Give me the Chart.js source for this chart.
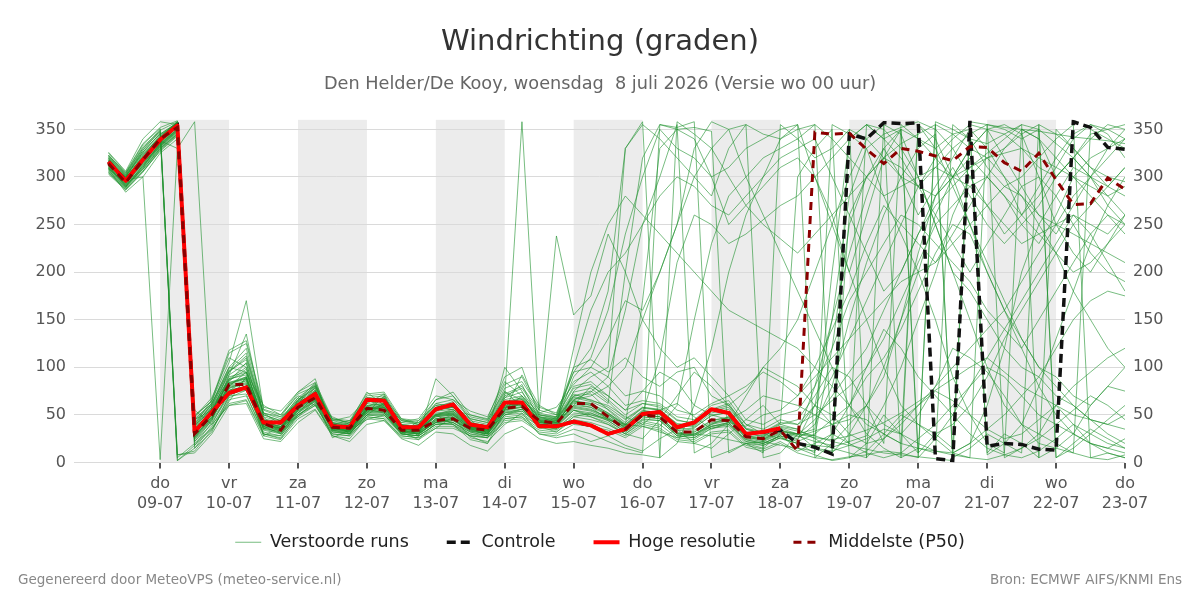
<!DOCTYPE html>
<html>
<head>
<meta charset="utf-8">
<title>Windrichting (graden)</title>
<script src="https://cdn.jsdelivr.net/npm/chart.js@4/dist/chart.umd.min.js"></script>
<style>
  html, body { margin: 0; padding: 0; background: #fff; }
  #wrap { width: 1200px; height: 600px; }
</style>
</head>
<body>
<div id="wrap"><canvas id="windChart" width="1200" height="600"></canvas></div>
<script>
// tijdas: uren t.o.v. do 09-07 00 uur, eerste waarde wo 08-07 06 uur, elke 6 uur
const firstHour = -18;
const stepHours = 6;
const dayNames = ['do', 'vr', 'za', 'zo', 'ma', 'di', 'wo', 'do', 'vr', 'za', 'zo', 'ma', 'di', 'wo', 'do'];
const dayDates = ['09-07', '10-07', '11-07', '12-07', '13-07', '14-07', '15-07', '16-07',
                  '17-07', '18-07', '19-07', '20-07', '21-07', '22-07', '23-07'];
const shadedDays = [0, 2, 4, 6, 8, 10, 12];
const yTicks = [0, 50, 100, 150, 200, 250, 300, 350];

const hires = [316,296,318,339,354, 32,53,73,79,42,42,60,72,38,37,66,65,37,37,56,61,40,37,63,63,38,38,
  43,39,30,35,51,53,37,42,56,52,30,32,36];

const control = [316,296,318,339,354, 32,53,73,79,42,42,60,72,38,37,66,65,37,37,56,61,40,37,63,63,38,38,
  43,39,30,35,51,53,37,42,56,52,30,32,34,
  20,16,9,345,340,357,356,357,4,2,359,17,20,19,14,13,358,352,331,329];

const p50 = [314,294,318,340,352, 30,50,82,82,41,34,58,68,37,36,57,55,34,34,44,46,36,34,57,59,44,41,
  62,62,48,35,50,48,32,32,45,44,27,25,34,
  12,347,345,346,329,314,330,327,322,317,332,331,315,306,325,297,271,272,299,287];

// verstoorde runs (ensemble-leden)
const runs = [
  [318,298,322,344,356, 28,48,78,86,38,34,56,70,36,33,55,58,32,30,44,50,34,30,55,62,42,40, 60,58,45,38,52,50,30,28,40,48,25,22,30, 25,40,80,150,210,260,300,330,345,10,20,60,120,200,250,280,310,300,270,250],
  [310,292,315,335,350, 35,55,90,95,45,40,62,75,40,36,60,62,36,35,50,52,38,36,62,66,48,45, 70,72,55,40,55,52,35,36,50,52,30,28,36, 30,15,8,350,340,320,300,290,310,330,345,355,5,15,30,60,40,20,10,5],
  [322,302,330,350,2, 18,42,70,72,30,28,52,64,34,30,50,50,30,28,40,42,32,28,48,50,38,36, 50,48,42,30,44,40,26,24,36,38,20,18,26, 20,10,355,345,330,280,240,200,150,90,50,20,10,350,340,300,320,345,350,355],
  [305,288,308,330,345, 42,58,95,110,50,44,66,78,42,38,64,68,40,38,55,58,42,38,70,358,50,48, 80,85,70,55,62,60,45,40,55,60,35,30,40, 45,70,100,90,60,40,30,50,80,120,110,95,70,40,20,15,30,60,80,75],
  [316,300,325,342,358, 25,45,82,90,42,38,58,72,38,35,58,55,34,32,46,48,36,32,58,60,44,42, 65,60,50,36,48,46,30,32,42,46,28,24,34, 28,22,18,260,300,330,350,340,320,300,310,325,340,355,350,335,320,300,290,310],
  [312,294,316,338,330, 358,52,76,80,36,32,54,66,35,34,54,54,33,31,42,44,35,31,52,56,40,39, 55,52,44,32,46,44,28,30,38,40,24,20,28, 22,30,45,60,90,110,140,180,220,250,240,200,160,130,100,90,70,60,80,100],
  [320,296,320,340,355, 30,50,88,92,40,36,60,72,38,34,58,60,35,34,48,50,36,34,60,62,45,42, 90,110,160,240,300,350,330,320,300,310,330,340,350, 355,5,20,40,60,20,355,340,330,345,350,10,30,20,5,350,330,310,290,280],
  [308,290,312,332,348, 38,56,84,88,44,40,60,70,40,36,56,60,38,36,52,54,40,36,64,68,46,44, 68,64,56,42,58,56,40,38,52,56,32,30,38, 35,25,15,10,5,355,345,300,250,200,180,150,120,100,90,70,60,45,40,50],
  [325,305,335,352,359, 15,38,68,76,34,30,50,62,32,30,50,48,30,28,40,40,30,28,46,48,36,34, 48,45,40,30,42,38,60,150,230,280,300,320,330, 340,355,10,30,60,100,150,200,260,300,330,350,355,345,300,250,220,200,230,260],
  [314,297,300,3,330, 45,62,100,120,52,46,68,82,44,40,68,70,42,40,60,62,44,40,72,80,55,50, 85,95,80,60,65,62,48,45,60,65,40,35,45, 40,50,65,80,100,130,170,210,250,270,290,300,280,260,240,220,200,210,230,250],
  [319,299,321,343,357, 22,40,74,78,36,32,52,66,34,32,52,52,31,30,42,46,33,30,50,54,40,38, 55,50,46,35,50,48,28,26,38,42,22,20,28, 15,8,2,5,12,30,50,40,25,10,5,355,350,340,350,5,20,35,25,15],
  [303,286,305,328,344, 48,65,105,170,55,48,72,80,45,42,70,72,44,42,62,66,46,42,78,85,58,52, 95,100,90,70,75,70,55,50,62,70,45,40,50, 55,80,120,170,200,230,260,250,230,210,190,160,140,120,150,180,210,240,260,250],
  [321,301,326,346,5, 20,36,62,66,30,26,48,60,30,28,48,46,28,26,38,38,28,26,44,46,34,32, 45,42,36,28,40,36,24,22,32,34,18,14,22, 12,20,30,20,10,5,10,25,40,60,80,100,90,70,50,40,30,20,15,10],
  [311,293,314,334,350, 34,54,86,98,42,38,62,74,38,36,60,62,36,34,50,54,38,34,60,64,46,44, 100,160,200,220,250,280,300,290,270,260,280,300,320, 330,340,300,260,220,180,200,240,280,300,320,300,280,250,230,260,300,320,330,340],
  [317,295,319,339,355, 30,48,80,84,40,36,58,68,36,33,56,56,34,32,46,48,36,32,56,58,42,40, 58,55,48,36,50,48,32,30,40,44,26,24,32, 30,35,200,340,355,350,330,300,250,200,150,100,60,40,30,20,10,350,340,330],
  [309,291,311,333,349, 40,60,92,104,46,42,64,76,40,38,62,64,38,36,54,56,40,36,66,70,48,46, 70,75,62,200,320,355,350,340,300,250,270,290,310, 320,300,260,200,150,100,60,40,30,40,60,90,130,160,190,220,250,270,290,310],
  [323,303,332,348,8, 12,34,66,70,32,28,50,60,32,30,50,50,30,28,40,42,32,28,50,52,38,35, 52,50,44,32,45,44,28,26,36,40,22,18,26, 20,18,16,22,28,60,100,150,200,260,300,320,330,345,355,5,15,30,45,60],
  [306,289,309,331,347, 44,60,98,115,50,44,66,80,42,40,66,68,40,38,58,60,42,38,70,78,52,48, 78,82,66,50,62,58,44,42,56,62,36,32,42, 40,60,50,30,20,25,40,60,75,65,50,35,25,30,45,60,80,95,110,120],
  [313,296,317,337,354, 26,46,78,82,38,34,56,68,36,34,54,54,33,32,44,46,35,32,54,58,42,40, 62,58,50,38,52,110,210,260,250,230,240,255,270, 280,300,320,340,355,340,320,290,260,230,200,230,260,290,300,280,250,220,200,190],
  [315,300,324,341,358, 36,54,84,90,42,38,60,70,38,35,56,58,36,34,50,52,38,34,58,62,44,42, 64,62,52,40,54,52,36,34,44,48,28,26,34, 30,28,120,250,300,320,310,290,280,300,330,350,345,330,310,300,320,340,355,350],
  [304,287,306,329,345, 50,64,115,125,56,50,74,84,46,44,72,74,46,44,66,70,48,44,82,90,55,238, 155,175,240,200,150,120,100,110,90,70,80,95,85, 70,90,110,130,150,170,190,200,210,230,250,270,290,280,260,250,240,230,220,210],
  [322,304,334,351,8, 10,30,60,65,28,24,46,56,30,28,46,44,28,26,36,36,28,26,42,44,32,30, 40,38,34,26,38,34,22,20,30,32,16,12,20, 10,5,3,6,8,12,10,5,358,350,340,335,345,355,5,15,10,5,3,8],
  [310,292,313,335,351, 33,50,82,88,40,36,58,70,37,35,56,57,35,33,48,50,37,33,57,61,43,41, 66,70,80,100,150,200,250,300,330,350,355,345,340, 350,355,340,320,300,280,290,300,310,300,290,270,250,230,240,250,260,250,240,260],
  [318,297,320,341,356, 28,47,79,83,39,35,57,69,36,33,55,55,33,31,45,47,35,31,55,59,43,41, 59,56,47,37,50,48,31,29,41,45,27,23,31, 27,33,40,50,45,30,20,15,12,10,20,35,50,70,90,120,150,170,180,175],
  [307,289,310,332,348, 46,62,96,108,48,43,65,78,41,39,65,67,39,37,56,58,41,37,68,74,50,47, 74,78,64,46,58,55,41,39,54,58,35,31,41, 300,330,350,5,20,50,30,10,355,345,330,320,300,280,250,220,180,150,120,100],
  [320,300,328,345,357, 24,44,72,76,35,31,54,64,34,31,52,52,32,30,42,44,33,30,52,54,40,38, 120,200,250,280,260,240,220,200,180,160,150,140,130, 120,100,80,60,40,30,20,355,340,300,250,200,160,120,80,50,30,20,15,25],
  [312,295,316,336,353, 31,51,81,86,40,36,59,71,37,35,57,59,35,33,49,51,37,33,59,63,45,43, 63,60,51,39,170,330,350,352,348,10,20,15,30, 29,45,70,95,120,160,200,240,270,290,310,320,325,330,320,310,300,290,280,290],
  [309,290,312,334,350, 39,57,87,94,44,40,61,73,39,37,59,61,37,35,51,53,39,35,63,67,47,45, 69,66,58,45,57,55,39,37,49,53,31,27,37, 33,28,22,18,14,10,8,6,4,2,358,355,352,350,348,345,342,340,338,335],
  [316,298,323,342,357, 27,46,76,80,37,33,55,67,35,32,53,53,32,30,43,45,34,30,53,56,41,39, 57,54,46,34,48,46,30,28,38,42,24,20,28, 24,60,150,280,330,345,352,358,350,330,300,270,240,260,290,320,345,355,350,340],
  [313,294,316,337,353, 35,53,83,89,41,37,59,71,38,35,57,58,36,34,49,51,37,34,58,62,44,42, 65,62,52,39,53,51,34,32,44,47,28,25,33, 30,26,24,28,34,42,52,64,76,88,100,110,95,80,70,60,50,45,40,35],
  [317,299,321,341,356, 22,44,92,135,48,30,55,80,42,30,50,62,40,28,88,70,45,30,100,75,40,35, 75,90,100,330,358,5,20,60,120,200,260,300,340, 355,300,250,200,260,320,350,10,30,15,350,330,300,260,280,310,340,355,345,320],
  [308,284,300,325,340, 40,66,118,128,58,54,74,88,34,42,74,60,45,42,50,40,28,20,55,92,60,50, 100,108,95,110,90,80,95,100,70,60,75,100,90, 80,60,40,20,355,340,350,5,25,50,80,110,140,170,200,230,260,240,210,180],
  [326,306,340,358,355, 55,40,60,62,25,22,42,55,28,22,40,44,25,18,32,30,18,12,30,38,25,20, 22,18,15,10,8,5,358,345,330,300,270,250,235, 220,240,260,280,300,320,335,345,355,5,15,30,20,10,355,345,330,310,300,295],
  [311,290,310,336,352, 36,58,88,100,35,45,68,60,48,40,52,70,30,44,60,55,50,45,75,58,38,48, 95,120,180,330,355,340,320,300,280,330,355,5,10, 30,80,150,220,280,330,300,260,290,320,350,8,20,40,80,130,180,230,270,300],
  [320,302,328,349,358, 18,35,64,90,28,38,48,66,26,34,45,50,32,24,36,48,26,22,40,52,30,26, 30,22,28,18,12,25,35,20,15,30,45,60,40, 35,60,90,130,170,210,250,290,320,340,355,350,320,290,260,240,270,300,330,350],
  [314,296,314,333,349, 38,62,100,95,60,50,70,64,44,48,66,58,42,46,70,66,54,48,85,70,52,58, 82,100,130,170,160,200,250,330,358,350,300,260,220, 180,140,100,60,30,15,5,355,330,290,250,210,170,130,100,80,60,45,30,20],
  [305,287,306,327,343, 45,55,85,105,40,35,65,84,36,32,62,72,34,30,58,64,36,28,68,82,44,36, 55,48,40,30,25,45,70,95,80,60,40,30,25, 20,15,12,18,25,35,30,20,12,8,5,3,8,15,25,40,55,70,60,45],
  [323,304,330,347,2, 15,32,70,80,30,25,50,62,28,25,48,46,26,24,42,40,24,20,46,48,30,28, 35,30,22,15,10,355,352,358,5,12,20,10,355, 340,320,330,350,5,25,45,60,80,100,120,140,160,190,220,250,280,300,320,340],
  [309,293,318,338,354, 30,52,96,112,52,48,62,82,40,44,58,68,46,40,66,74,50,46,90,100,48,42, 60,80,70,55,75,95,85,60,50,45,55,70,65, 60,50,40,45,60,90,150,220,280,310,280,250,230,250,270,300,320,300,280,260],
  [318,301,326,345,357, 26,50,80,95,45,36,56,76,40,36,54,62,38,34,50,56,38,34,56,70,42,44, 66,74,90,160,250,300,355,10,20,40,70,100,120, 150,200,250,300,340,355,5,15,10,355,340,310,290,300,320,340,355,5,10,5],
  [312,291,308,330,346, 48,68,110,100,52,40,64,70,46,42,68,66,44,40,62,58,46,42,74,66,50,46, 72,65,60,48,40,55,62,48,35,42,38,50,55, 70,100,140,180,230,270,250,230,210,240,270,300,330,350,340,320,300,280,260,240],
  [315,297,319,340,355, 33,47,75,88,38,30,52,70,33,30,56,52,30,28,46,42,30,26,50,56,38,32, 48,52,45,40,38,32,26,30,28,24,20,22,18, 15,12,30,60,100,140,120,90,70,50,30,15,8,5,12,25,40,30,20,15]
];

const footerLeft = 'Gegenereerd door MeteoVPS (meteo-service.nl)';
const footerRight = 'Bron: ECMWF AIFS/KNMI Ens';

const FONT = '"DejaVu Sans", sans-serif';
Chart.defaults.font.family = FONT;

const toPoints = vals => vals.map((v, i) => ({ x: firstHour + i * stepHours, y: v }));

const runDatasets = runs.map((vals, i) => ({
  label: i === 0 ? 'Verstoorde runs' : '',
  data: toPoints(vals),
  borderColor: 'rgba(30,145,45,0.6)',
  borderWidth: 1,
  order: 3
}));

const datasets = [
  ...runDatasets,
  {
    label: 'Controle',
    data: toPoints(control),
    borderColor: '#111',
    borderWidth: 3.5,
    borderDash: [9, 5],
    order: 2
  },
  {
    label: 'Hoge resolutie',
    data: toPoints(hires),
    borderColor: '#ff0000',
    borderWidth: 4,
    borderJoinStyle: 'round',
    order: 1
  },
  {
    label: 'Middelste (P50)',
    data: toPoints(p50),
    borderColor: '#8b0000',
    borderWidth: 3,
    borderDash: [8, 6],
    order: 0
  }
];

// grijze banden voor om-en-om dagen
const dayShading = {
  id: 'dayShading',
  beforeDraw(chart) {
    const { ctx, chartArea, scales: { x } } = chart;
    ctx.save();
    ctx.fillStyle = '#ececec';
    shadedDays.forEach(d => {
      const x0 = x.getPixelForValue(d * 24);
      const x1 = x.getPixelForValue((d + 1) * 24);
      ctx.fillRect(x0, chartArea.top, x1 - x0, chartArea.bottom - chartArea.top);
    });
    ctx.restore();
  }
};

// legenda iets omhoog, dichter onder de datumlabels
const legendShift = 23;
const legendNudge = {
  id: 'legendNudge',
  afterLayout(chart) {
    chart.legend.top -= legendShift;
    chart.legend.bottom -= legendShift;
  }
};

const footer = {
  id: 'footer',
  afterDraw(chart) {
    const ctx = chart.ctx;
    ctx.save();
    ctx.font = '13.5px ' + FONT;
    ctx.fillStyle = '#888';
    ctx.textBaseline = 'middle';
    ctx.textAlign = 'left';
    ctx.fillText(footerLeft, 18, 580);
    ctx.textAlign = 'right';
    ctx.fillText(footerRight, 1182, 580);
    ctx.restore();
  }
};

const yAxis = (position, width, showGrid) => ({
  position,
  min: 0,
  max: 360,
  grid: { display: showGrid, color: '#dadada', lineWidth: 1, drawTicks: false },
  border: { display: false },
  ticks: { padding: 8, color: '#555', font: { size: 16 } },
  afterBuildTicks: s => { s.ticks = yTicks.map(v => ({ value: v })); },
  afterFit: s => { s.width = width; }
});

new Chart(document.getElementById('windChart'), {
  type: 'line',
  data: { datasets },
  options: {
    responsive: false,
    animation: false,
    devicePixelRatio: 1,
    events: [],
    elements: {
      point: { radius: 0 },
      line: { tension: 0, fill: false }
    },
    layout: { padding: { left: 0, right: 0, top: 0, bottom: 16 } },
    plugins: {
      title: {
        display: true,
        text: 'Windrichting (graden)',
        color: '#333',
        font: { size: 29, weight: 'normal' },
        padding: { top: 25.4, bottom: 0 }
      },
      subtitle: {
        display: true,
        text: 'Den Helder/De Kooy, woensdag  8 juli 2026 (Versie wo 00 uur)',
        color: '#666',
        font: { size: 17.7 },
        padding: { top: 13.2, bottom: 25.2 }
      },
      legend: {
        position: 'bottom',
        labels: {
          usePointStyle: true,
          pointStyleWidth: 26,
          padding: 38,
          color: '#222',
          font: { size: 17.5 },
          generateLabels: chart => chart.data.datasets
            .filter(ds => ds.label)
            .map(ds => ({
              text: ds.label,
              strokeStyle: ds.borderColor,
              fillStyle: ds.borderColor,
              lineWidth: ds.borderWidth,
              lineDash: ds.borderDash || [],
              pointStyle: 'line',
              hidden: false,
              fontColor: '#222',
              datasetIndex: chart.data.datasets.indexOf(ds)
            }))
        }
      },
      tooltip: { enabled: false }
    },
    scales: {
      x: {
        type: 'linear',
        min: -30,
        max: 336,
        grid: { display: true, drawOnChartArea: false, drawTicks: true, tickLength: 6, color: '#555', lineWidth: 2 },
        border: { display: false },
        ticks: {
          autoSkip: false,
          maxRotation: 0,
          padding: 5,
          color: '#555',
          font: { size: 16, lineHeight: 1.25 },
          callback: (value, index) => [dayNames[index], dayDates[index]]
        },
        afterBuildTicks: s => { s.ticks = dayDates.map((d, i) => ({ value: i * 24 })); },
        afterFit: s => { s.height = 56; }
      },
      y: yAxis('left', 74, true),
      y2: yAxis('right', 75, false)
    }
  },
  plugins: [dayShading, legendNudge, footer]
});
</script>
</body>
</html>
